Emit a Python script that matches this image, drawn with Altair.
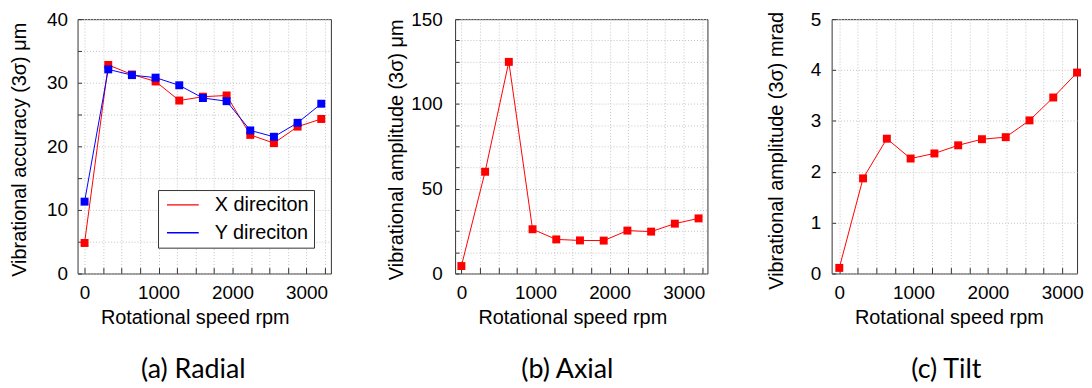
import altair as alt
import pandas as pd

# ---- data ----
speed = [0, 320, 640, 960, 1280, 1600, 1920, 2240, 2560, 2880, 3200]
radial_x = [4.8, 32.8, 31.3, 30.2, 27.2, 27.8, 28.0, 21.8, 20.5, 23.1, 24.3]
radial_y = [11.3, 32.1, 31.2, 30.8, 29.6, 27.6, 27.1, 22.5, 21.5, 23.7, 26.7]
axial = [4.4, 60.0, 124.8, 26.1, 20.1, 19.5, 19.4, 25.3, 24.7, 29.4, 32.5]
tilt = [0.11, 1.87, 2.65, 2.26, 2.36, 2.52, 2.64, 2.68, 3.01, 3.46, 3.95]

series_names = ["X direciton", "Y direciton"]
series_colors = ["#ff0000", "#0000ff"]
captions = ["(a) Radial", "(b) Axial", "(c) Tilt"]
y_titles = ["Vibrational accuracy (3\u03c3) \u03bcm",
            "Vibrational amplitude (3\u03c3) \u03bcm",
            "Vibrational amplitude (3\u03c3) mrad"]
x_title = "Rotational speed rpm"

FONT = "Liberation Sans"
CAP_FONT = "Lato"
H = 256

df_a = pd.DataFrame({
    "speed": speed + speed,
    "value": radial_x + radial_y,
    "series": [series_names[0]] * len(speed) + [series_names[1]] * len(speed),
})
df_b = pd.DataFrame({"speed": speed, "value": axial})
df_c = pd.DataFrame({"speed": speed, "value": tilt})


def x_axis(xmax):
    ticks = [v for v in range(0, 3500, 250) if v <= xmax]
    return alt.Axis(
        values=ticks, format="d",
        labelExpr="datum.value % 1000 === 0 ? datum.label : ''",
        title=x_title, titleX=118, titlePadding=5,
        tickSize=6, offset=-6, labelPadding=10, tickColor="#333",
        domain=False, grid=True, gridDash=[1, 2], gridColor="#c4c4c4",
        labelFlush=False, labelOverlap=False,
        labelFont=FONT, titleFont=FONT, labelFontSize=19, titleFontSize=20,
        labelColor="black", titleColor="black", titleFontWeight="normal",
    )


def y_axis(ticks, lab_step, title, lab_pad, title_pad, title_y):
    return alt.Axis(
        values=ticks, format="d",
        labelExpr=f"datum.value % {lab_step} === 0 ? datum.label : ''",
        title=title, titlePadding=title_pad, titleY=title_y,
        tickSize=4, offset=-4, labelPadding=lab_pad, tickColor="#333",
        domain=False, grid=True, gridDash=[1, 2], gridColor="#c4c4c4",
        labelFlush=False, labelOverlap=False,
        labelFont=FONT, titleFont=FONT, labelFontSize=19, titleFontSize=20,
        labelColor="black", titleColor="black", titleFontWeight="normal",
    )


def caption(text, dx):
    return alt.TitleParams(text=text, orient="bottom", anchor="middle", frame="group",
                           font=CAP_FONT, fontSize=27, fontWeight="normal",
                           color="black", offset=30, dx=dx)


# ---- panel (a) ----
xa = alt.X("speed:Q", scale=alt.Scale(domain=[-95, 3330], nice=False, zero=False),
           axis=x_axis(3330))
ya = alt.Y("value:Q", scale=alt.Scale(domain=[0, 40], nice=False),
           axis=y_axis([i * 5 for i in range(9)], 10, y_titles[0], 10, 17, H / 2 + 3))
line_a = alt.Chart(df_a).mark_line(strokeWidth=1, clip=False).encode(
    x=xa, y=ya,
    color=alt.Color("series:N",
                    scale=alt.Scale(domain=series_names, range=series_colors),
                    legend=alt.Legend(title=None, orient="none", legendX=81, legendY=172,
                                      symbolType="stroke", symbolSize=1024,
                                      symbolStrokeWidth=1.3, symbolOffset=3,
                                      clipHeight=20, labelFontSize=20,
                                      labelFont=FONT, labelColor="black",
                                      labelOffset=15, rowPadding=8, padding=5,
                                      fillColor="white", strokeColor="#333")),
)
pts_a = alt.Chart(df_a).mark_square(size=64, opacity=1, clip=False).encode(
    x=xa, y=ya,
    fill=alt.Fill("series:N",
                  scale=alt.Scale(domain=series_names, range=series_colors),
                  legend=None),
)
panel_a = alt.layer(line_a, pts_a).properties(width=255, height=H,
                                             title=caption(captions[0], -11))

# ---- panel (b) ----
xb = alt.X("speed:Q", scale=alt.Scale(domain=[-85, 3320], nice=False, zero=False),
           axis=x_axis(3320))
yb = alt.Y("value:Q", scale=alt.Scale(domain=[0, 150], nice=False),
           axis=y_axis([i * 12.5 for i in range(13)], 50, y_titles[1], 13, 4, H / 2 + 3))
base_b = alt.Chart(df_b).encode(x=xb, y=yb)
panel_b = alt.layer(
    base_b.mark_line(color="#ff0000", strokeWidth=1, clip=False),
    base_b.mark_square(color="#ff0000", size=64, opacity=1, clip=False),
).properties(width=254, height=H, title=caption(captions[1], -14))

# ---- panel (c) ----
xc = alt.X("speed:Q", scale=alt.Scale(domain=[-103, 3200], nice=False, zero=False),
           axis=x_axis(3200))
yc = alt.Y("value:Q", scale=alt.Scale(domain=[0, 5], nice=False),
           axis=y_axis([i * 0.5 for i in range(11)], 1, y_titles[2], 11, 24, H / 2 + 4))
base_c = alt.Chart(df_c).encode(x=xc, y=yc)
panel_c = alt.layer(
    base_c.mark_line(color="#ff0000", strokeWidth=1, clip=False),
    base_c.mark_square(color="#ff0000", size=64, opacity=1, clip=False),
).properties(width=247, height=H, title=caption(captions[2], -8))

chart = alt.hconcat(panel_a, panel_b, panel_c, spacing=125, bounds="flush").properties(
    padding={"left": 1, "top": 0, "right": 0, "bottom": 0},
    background="white",
).configure_view(
    stroke="#333", strokeWidth=1
)

chart.save("out.html", embed_options={"renderer": "svg", "actions": False})
